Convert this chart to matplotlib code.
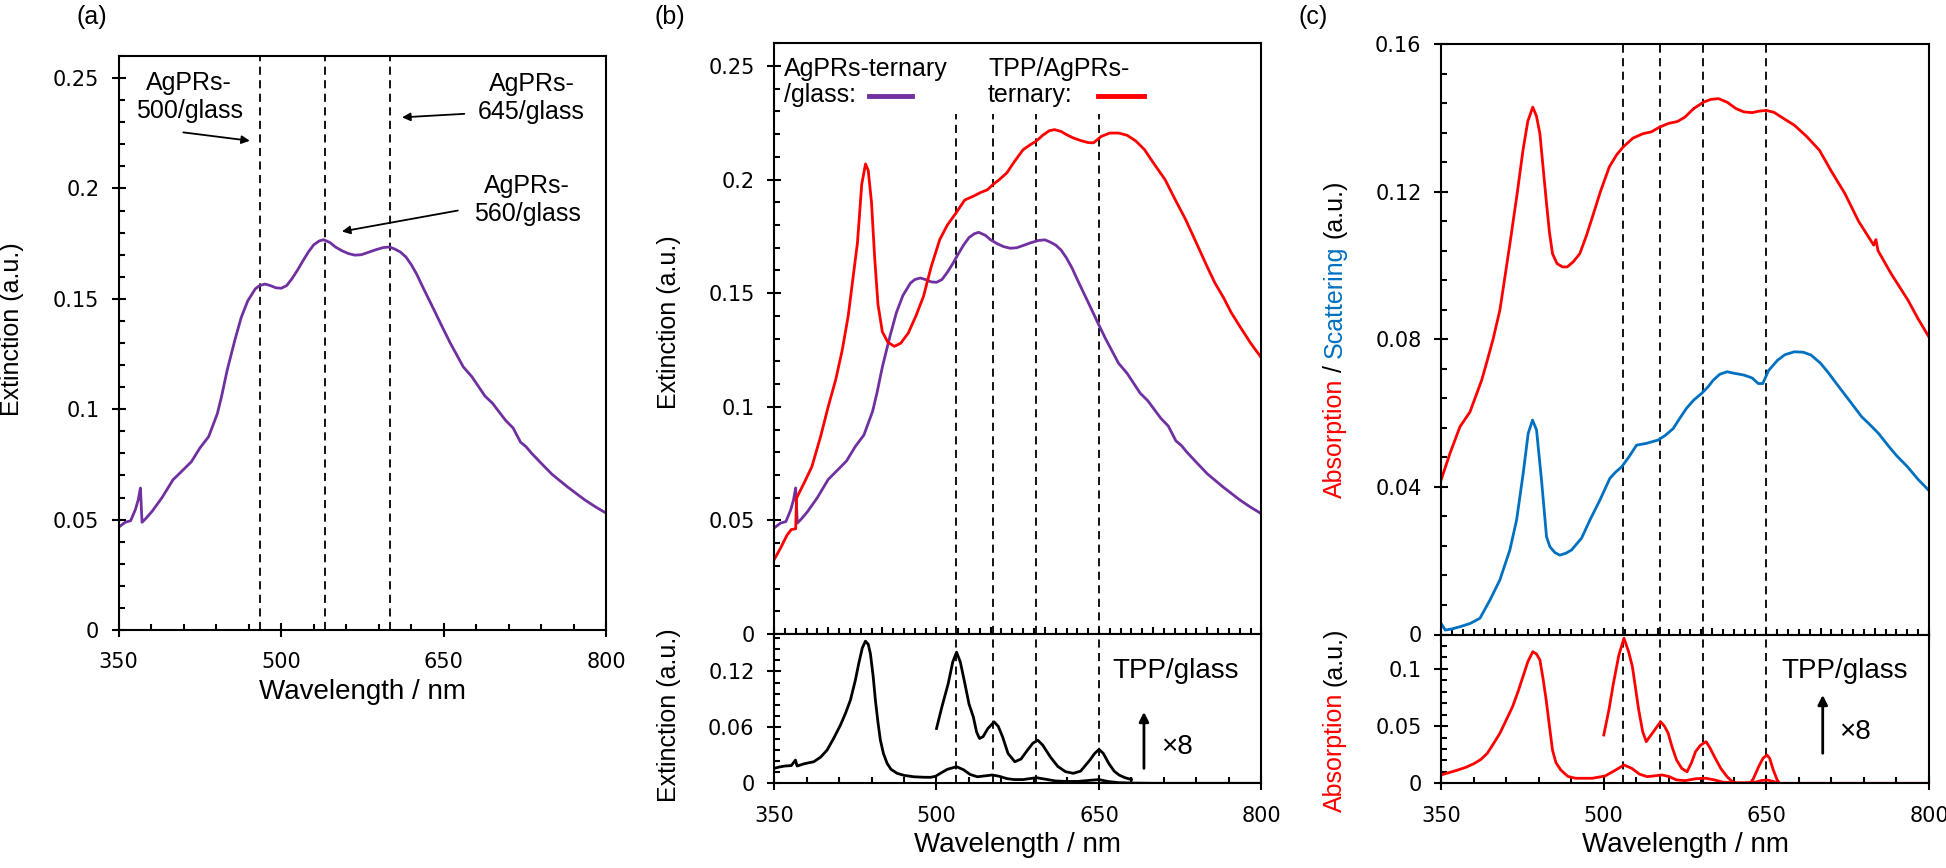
import matplotlib
matplotlib.use('Agg')
import matplotlib.pyplot as plt
from matplotlib.ticker import MultipleLocator, FuncFormatter

plt.rcParams['font.family'] = ['Liberation Sans', 'DejaVu Sans']

PURPLE = '#7030A0'
RED = '#FF0000'
BLUE = '#0070C0'

# --- (a)/(b) AgPRs-ternary/glass extinction ---
ternary_x = [350, 356, 361, 365.4, 368, 370, 371.5, 375, 381, 390,
             400, 410, 417, 425, 433, 441, 445, 450, 457, 463,
             469, 476, 480, 485, 490, 495, 500, 505, 510, 515,
             520, 525, 530, 535, 539, 545, 550, 556, 562, 568,
             574, 580, 587, 594, 600, 605, 610, 615, 620, 625,
             630, 636, 641, 649, 656, 668, 676, 688, 695, 707,
             714, 721, 726, 731, 740, 750, 764, 780, 790, 800]
ternary_y = [.0466, .0488, .0495, .0546, .0590, .0643, .0488, .0505, .0539, .0600,
             .0680, .0728, .0762, .0825, .0876, .0980, .1060, .1175, .1310, .1415,
             .1490, .1545, .1560, .1567, .1560, .1550, .1548, .1560, .1592, .1630,
             .1672, .1712, .1745, .1762, .1768, .1755, .1735, .1718, .1705, .1698,
             .1700, .1710, .1722, .1732, .1735, .1725, .1712, .1690, .1655, .1612,
             .1560, .1500, .1450, .1369, .1300, .1192, .1147, .1060, .1027, .0950,
             .0915, .0850, .0830, .0801, .0755, .0705, .0649, .0590, .0558, .0529]

# --- (b) TPP/AgPRs-ternary extinction ---
tpp_ternary_x = [350, 356, 362, 366, 370, 370.8, 377.7, 385, 393, 400,
                 407, 413, 418.5, 423, 427, 431, 434.5, 437, 440, 443,
                 446, 450, 455, 461, 467, 474, 481, 488, 495, 503,
                 510, 518, 526, 534, 541, 547, 552, 558, 565, 572,
                 580, 587, 592, 598, 604, 609, 615, 620, 626, 633,
                 640, 645, 652, 660, 668, 676, 684, 692, 700, 711,
                 720, 730, 740, 750, 757, 765, 772, 780, 790, 800]
tpp_ternary_y = [.0326, .0378, .0435, .0460, .0463, .0598, .0664, .0737, .0869, .1000,
                 .1120, .1250, .1400, .1570, .1720, .1980, .2069, .2040, .1900, .1650,
                 .1450, .1330, .1285, .1266, .1280, .1325, .1400, .1486, .1615, .1736,
                 .1800, .1853, .1910, .1927, .1944, .1955, .1978, .2000, .2030, .2080,
                 .2132, .2155, .2169, .2195, .2215, .2220, .2212, .2198, .2184, .2172,
                 .2163, .2162, .2190, .2205, .2205, .2195, .2170, .2132, .2075, .2000,
                 .1915, .1824, .1720, .1615, .1545, .1480, .1415, .1354, .1280, .1215]

# --- (b) TPP/glass extinction (raw and x8) ---
tpp_ext_x = [350, 355, 360, 366, 369.8, 371.3, 378, 386.7, 393, 399,
             405, 411.3, 416, 420.5, 425, 428.2, 431.5, 434.4, 437, 439,
             441.5, 443.6, 446, 448.2, 451, 454.4, 458, 463.6, 470, 479,
             488, 494.4, 499, 503.6, 510, 518.5, 525, 531, 537.7, 545,
             551.5, 558, 565, 572, 580, 586, 592.3, 600, 610, 620,
             630, 640, 650, 658, 668, 680, 700, 750, 800]
tpp_ext_y = [.0160, .0175, .0185, .0190, .0249, .0185, .0210, .0231, .0280, .0356,
             .0480, .0623, .0750, .0890, .1100, .1282, .1450, .1523, .1490, .1388,
             .1150, .0890, .0650, .0462, .0320, .0214, .0150, .0107, .0085, .0070,
             .0065, .0064, .0075, .0107, .0150, .0178, .0145, .0095, .0070, .0080,
             .0089, .0075, .0050, .0040, .0040, .0050, .0060, .0045, .0025, .0020,
             .0020, .0030, .0040, .0020, .0007, .0003, 0, 0, 0]
tpp_ext8_x = [500, 505, 510.8, 515, 518.5, 522, 526.2, 530, 534, 537,
              539.7, 543, 547.4, 553.2, 557, 561, 566, 572.3, 578, 584,
              589, 593.5, 598, 605, 612, 619, 626.2, 633, 641.6, 646,
              650, 654, 659, 664, 668.5, 674, 680]
tpp_ext8_y = [.0587, .0820, .1068, .1300, .1405, .1300, .1068, .0850, .0711, .0550,
              .0480, .0500, .0587, .0658, .0610, .0498, .0320, .0231, .0260, .0356,
              .0430, .0462, .0410, .0284, .0180, .0125, .0107, .0130, .0249, .0320,
              .0363, .0320, .0213, .0130, .0089, .0060, .0040]

# --- (c) absorption / scattering of TPP/AgPRs-ternary ---
abs_x = [350, 358.3, 367.5, 376.7, 387.5, 392.7, 398, 404.3, 409, 414,
         420, 425.6, 430, 434.6, 438, 441.2, 444, 447, 450, 452.8,
         457, 462, 466.4, 472, 478, 484, 489.6, 497, 505.2, 512,
         518, 527, 536.2, 544, 551.7, 560, 568, 575, 583, 592.4,
         599, 606, 614, 622, 629.3, 637, 643, 649.9, 657, 666,
         675.8, 687, 699, 710, 722.4, 735, 749, 751, 753, 765,
         780.6, 790, 800]
abs_y = [.0418, .0491, .0563, .0603, .0689, .0743, .0800, .0879, .0970, .1068,
         .1190, .1312, .1390, .1429, .1405, .1357, .1270, .1177, .1090, .1032,
         .1005, .0996, .0996, .1010, .1032, .1080, .1131, .1200, .1267, .1300,
         .1321, .1345, .1357, .1362, .1375, .1385, .1390, .1402, .1425, .1443,
         .1450, .1452, .1442, .1425, .1416, .1414, .1418, .1420, .1415, .1398,
         .1380, .1350, .1312, .1255, .1195, .1120, .1055, .1070, .1040, .0978,
         .0906, .0855, .0806]
sca_x = [350, 354, 360, 367.5, 377, 385.9, 395.1, 404.3, 413.5, 419.7,
         425.8, 430.4, 434.4, 438.1, 442.7, 447.3, 450.4, 455, 459.6, 465,
         470.4, 479.6, 487.3, 496.5, 505.7, 511, 516.5, 523, 530.3, 539.5,
         550.3, 557, 564.1, 570, 576.4, 583, 590.2, 596, 601, 607,
         613.8, 620, 629.3, 637, 642.5, 646.7, 652, 660.3, 667, 675.8,
         684, 691.3, 700, 707, 714.6, 725, 737.9, 745, 753.4, 763.1,
         770, 780, 790, 800]
sca_y = [.0030, .0012, .0015, .0021, .0030, .0044, .0093, .0148, .0229, .0310,
         .0437, .0545, .0581, .0554, .0418, .0265, .0238, .0222, .0215, .0220,
         .0229, .0261, .0310, .0364, .0423, .0440, .0454, .0480, .0513, .0518,
         .0527, .0540, .0558, .0585, .0613, .0635, .0653, .0670, .0689, .0705,
         .0712, .0708, .0703, .0695, .0680, .0680, .0715, .0743, .0758, .0766,
         .0765, .0757, .0735, .0710, .0680, .0640, .0590, .0570, .0545, .0509,
         .0485, .0455, .0420, .0390]

# --- (c) TPP/glass absorption (raw and x8) ---
tpp_abs_x = [350, 358, 365.5, 373, 381, 387, 392.7, 398, 404.3, 410,
             416, 421, 425.6, 430, 434.6, 438, 441.2, 444, 447, 450,
             452.8, 456, 460.5, 467, 474.1, 489.6, 501.3, 510, 518.7, 526,
             533, 540.1, 547, 553.6, 560, 567, 575, 585, 594.4, 602,
             610, 617.6, 630, 640, 646, 650.6, 655, 662.3, 700, 800]
tpp_abs_y = [.0073, .0095, .0116, .0140, .0175, .0210, .0262, .0340, .0437, .0550,
             .0670, .0800, .0932, .1060, .1150, .1130, .1078, .0920, .0728, .0500,
             .0291, .0180, .0116, .0060, .0044, .0044, .0064, .0110, .0160, .0130,
             .0080, .0058, .0065, .0073, .0060, .0030, .0023, .0040, .0044, .0030,
             .0010, .0006, .0005, .0010, .0025, .0029, .0020, 0, 0, 0]
tpp_abs8_x = [500.1, 505, 509, 514, 518.7, 523, 526.5, 532.3, 536, 539.3,
              542, 545.9, 552.5, 556, 559.5, 563, 567.2, 572, 576.9, 581,
              584.7, 589, 594.4, 598, 602.1, 608, 613.8, 618, 621.5, 635.1,
              638, 642.9, 647, 650.6, 653, 656.4, 660, 662.3]
tpp_abs8_y = [.0422, .0650, .0874, .1120, .1267, .1150, .1019, .0641, .0450, .0364,
              .0400, .0451, .0538, .0500, .0437, .0320, .0204, .0130, .0101, .0180,
              .0276, .0330, .0364, .0310, .0233, .0130, .0058, .0020, 0, 0,
              .0040, .0145, .0220, .0247, .0220, .0116, .0030, 0]

# 破線の位置
dash_a = [480, 540, 600]
dash_bc = [518, 552, 592, 650]

W, H = 1946, 868
fig = plt.figure(figsize=(W / 100, H / 100), dpi=100)


def add_ax(left, top, right, bottom):
    return fig.add_axes([left / W, 1 - bottom / H, (right - left) / W, (bottom - top) / H])


fmt = FuncFormatter(lambda v, p: f'{v:g}')


def style(ax, ylim, ymaj, ymin, xmaj, xmin, xlabels=True):
    ax.set_xlim(350, 800)
    ax.set_ylim(*ylim)
    # 目盛りは 350 から始める
    ax.xaxis.set_major_locator(MultipleLocator(xmaj, offset=350 % xmaj))
    ax.xaxis.set_minor_locator(MultipleLocator(xmin, offset=350 % xmin))
    ax.yaxis.set_major_locator(MultipleLocator(ymaj))
    ax.yaxis.set_minor_locator(MultipleLocator(ymin))
    ax.yaxis.set_major_formatter(fmt)
    ax.tick_params(which='major', direction='inout', length=10, width=1.5,
                   labelsize=15, labelfontfamily='DejaVu Sans')
    ax.tick_params(axis='x', which='major', pad=11)
    ax.tick_params(axis='y', which='major', pad=9)
    ax.tick_params(which='minor', direction='in', length=4.5, width=1.5)
    if not xlabels:
        ax.tick_params(axis='x', labelbottom=False)
    else:
        ax.set_xlabel('Wavelength / nm', fontsize=20, labelpad=5)
    for s in ax.spines.values():
        s.set_linewidth(1.5)


def vdash(ax, xs, y0, y1):
    ax.vlines(xs, y0, y1, colors='black', linestyles=(0, (4.5, 3)), lw=1.3)


def arrow(ax, tip, tail, lw=1.3, ms=12):
    ax.annotate('', xy=tip, xytext=tail,
                arrowprops=dict(arrowstyle='-|>', lw=lw, color='black',
                                mutation_scale=ms, shrinkA=0, shrinkB=0))


# ---------------- (a) ----------------
ax_a = add_ax(118.75, 56, 606.25, 630)
style(ax_a, (0, 0.26), 0.05, 0.01, 150, 30)
vdash(ax_a, dash_a, 0, 0.26)
ax_a.plot(ternary_x, ternary_y, color=PURPLE, lw=2)
ax_a.text(415, 0.2415, 'AgPRs-\n500/glass', fontsize=18, ha='center', va='center')
arrow(ax_a, (471, 0.2216), (409.6, 0.2254))
ax_a.text(731, 0.241, 'AgPRs-\n645/glass', fontsize=18, ha='center', va='center')
arrow(ax_a, (611.5, 0.2322), (669, 0.2338))
ax_a.text(727, 0.1949, 'AgPRs-\n560/glass', fontsize=18, ha='center', va='center')
arrow(ax_a, (556, 0.1805), (663, 0.19))

# ---------------- (b) ----------------
ax_b = add_ax(774, 43.3, 1261.5, 634)
style(ax_b, (0, 0.26), 0.05, 0.01, 50, 10, xlabels=False)
vdash(ax_b, dash_bc, 0, 0.229)
ax_b.plot(ternary_x, ternary_y, color=PURPLE, lw=2)
ax_b.plot(tpp_ternary_x, tpp_ternary_y, color=RED, lw=2)
ax_b.text(0.021, 0.935, 'AgPRs-ternary\n/glass:', transform=ax_b.transAxes,
          fontsize=18, ha='left', va='center', linespacing=1.1)
ax_b.plot([0.195, 0.284], [0.910, 0.910], transform=ax_b.transAxes, color=PURPLE, lw=3.5)
ax_b.text(0.439, 0.935, 'TPP/AgPRs-\nternary:', transform=ax_b.transAxes,
          fontsize=18, ha='left', va='center', linespacing=1.1)
ax_b.plot([0.665, 0.759], [0.910, 0.910], transform=ax_b.transAxes, color=RED, lw=3.5)

ax_b2 = add_ax(774, 634, 1261.5, 783.3)
style(ax_b2, (0, 0.16), 0.06, 0.012, 150, 30)
vdash(ax_b2, dash_bc, 0, 0.16)
ax_b2.plot(tpp_ext_x, tpp_ext_y, color='black', lw=2)
ax_b2.plot(tpp_ext8_x, tpp_ext8_y, color='black', lw=2)
ax_b2.text(720.4, 0.12, 'TPP/glass', fontsize=20, ha='center', va='center')
arrow(ax_b2, (691.5, 0.0765), (691.5, 0.016), lw=2, ms=14)
ax_b2.text(722.4, 0.0384, '×8', fontsize=20, ha='center', va='center')

# ---------------- (c) ----------------
ax_c = add_ax(1441, 44, 1929, 634.5)
style(ax_c, (0, 0.16), 0.04, 0.008, 50, 10, xlabels=False)
vdash(ax_c, dash_bc, 0, 0.16)
ax_c.plot(abs_x, abs_y, color=RED, lw=2)
ax_c.plot(sca_x, sca_y, color=BLUE, lw=2)

ax_c2 = add_ax(1441, 634.5, 1929, 783.3)
style(ax_c2, (0, 0.13), 0.05, 0.01, 150, 30)
vdash(ax_c2, dash_bc, 0, 0.13)
ax_c2.plot(tpp_abs_x, tpp_abs_y, color=RED, lw=2)
ax_c2.plot(tpp_abs8_x, tpp_abs8_y, color=RED, lw=2)
ax_c2.text(722.5, 0.0984, 'TPP/glass', fontsize=20, ha='center', va='center')
arrow(ax_c2, (702, 0.0772), (702, 0.0262), lw=2, ms=14)
ax_c2.text(732, 0.0451, '×8', fontsize=20, ha='center', va='center')

# ---------------- labels ----------------
for x, y, s in [(12.5, 329, 'Extinction (a.u.)'), (669, 322, 'Extinction (a.u.)'),
                (669, 715, 'Extinction (a.u.)')]:
    fig.text(x / W, 1 - y / H, s, rotation=90, fontsize=18, ha='center', va='center')

for x, y, s in [(92, 17, '(a)'), (670, 17, '(b)'), (1313, 17, '(c)')]:
    fig.text(x / W, 1 - y / H, s, fontsize=18, ha='center', va='center')


def color_ylabel(x_px, yc_px, parts, size=18):
    r = fig.canvas.get_renderer()
    texts = [fig.text(0, 0, s, color=c, fontsize=size, rotation=90,
                      ha='center', va='bottom') for s, c in parts]
    gap = 0.28 * size * 100 / 72
    hs = [t.get_window_extent(r).height for t in texts]
    total = sum(hs) + gap * (len(hs) - 1)
    y = (H - yc_px) - total / 2
    for t, h in zip(texts, hs):
        t.set_position((x_px / W, y / H))
        y += h + gap


color_ylabel(1335, 339, [('Absorption', RED), ('/', 'black'),
                         ('Scattering', BLUE), ('(a.u.)', 'black')])
color_ylabel(1335, 720, [('Absorption', RED), ('(a.u.)', 'black')])

fig.savefig('out.png', dpi=100)
